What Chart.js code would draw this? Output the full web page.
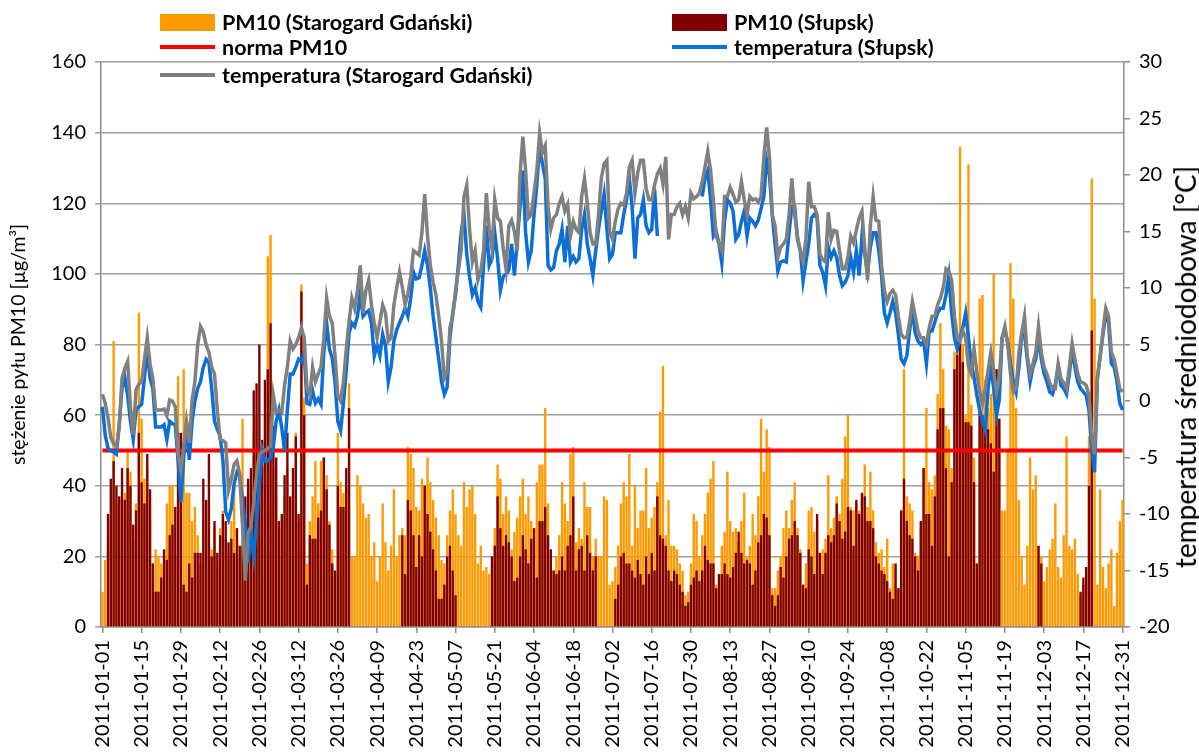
<!DOCTYPE html>
<html lang="pl">
<head>
<meta charset="utf-8">
<title>PM10 i temperatura 2011</title>
<script src="https://cdn.jsdelivr.net/npm/chart.js@4.4.0/dist/chart.umd.min.js"></script>
<style>
  html, body { margin: 0; padding: 0; background: #fff; overflow: hidden; }
  #wrap { position: relative; width: 1199px; height: 753px; }
  #wykres { position: absolute; left: 0; top: 0; }
  .leg { position: absolute; font-family: Lato, sans-serif; font-size: 21.5px; font-weight: bold; line-height: 24px; color: #000;
         display: flex; align-items: center; white-space: nowrap; }
  .leg i { display: inline-block; width: 55px; margin-right: 7px; }
  .leg .box { height: 17px; }
  .leg .ln { height: 4px; }
  #tytulPrawy { position: absolute; left: 1185px; top: 367px; transform: translate(-50%, -50%) rotate(-90deg);
                font-family: Lato, sans-serif; font-size: 28px; line-height: 30px; color: #000; white-space: nowrap; }
</style>
</head>
<body>
<div id="wrap">
  <canvas id="wykres" width="1199" height="753"></canvas>
  <div class="leg" style="left:160px; top:10px;"><i class="box" style="background:#ff9900"></i>PM10 (Starogard Gdański)</div>
  <div class="leg" style="left:672px; top:10px;"><i class="box" style="background:#800000"></i>PM10 (Słupsk)</div>
  <div class="leg" style="left:160px; top:35px;"><i class="ln" style="background:#ff0000"></i>norma PM10</div>
  <div class="leg" style="left:672px; top:35px;"><i class="ln" style="background:#0b6fd6"></i>temperatura (Słupsk)</div>
  <div class="leg" style="left:160px; top:63px;"><i class="ln" style="background:#808080"></i>temperatura (Starogard Gdański)</div>
  <div id="tytulPrawy">temperatura średniodobowa [°C]</div>
</div>
<script>
const _ = null;

// dni roku 2011
const dni = [];
const start = new Date(Date.UTC(2011, 0, 1));
for (let i = 0; i < 365; i++) {
    const d = new Date(start.getTime() + i * 86400000);
    dni.push(d.toISOString().slice(0, 10));
}

const normaPM10 = 50;

// PM10 Starogard Gdański [ug/m3]
const pm10Starogard = [
    10, 19, 25, 30, 81, 35, 36, 30, 38, 50, 44, 25, 35, 89, 59, 42, 45, 30, 18, 22, 20, 18, 20, 35, 40, 40, 20, 71, 40, 73, 38, 38, 30, 34, 26,
    18, 30, 25, 35, 22, 28, 17, 28, 33, 25, 20, 30, 41, 28, 20, 59, 30, 38, 40, 55, 60, 48, 45, 60, 105, 111, 45, 37, 28, 20, 37, 45, 36, 38, 55, 30, 97,
    65, 18, 30, 37, 47, 35, 47, 48, 43, 30, 22, 15, 55, 41, 38, 40, 69, 20, 20, 43, 40, 35, 31, 32, 20, 24, 13, 20, 35, 24, 16, 23, 39, 20, 26, 28, 26,
    51, 49, 45, 34, 33, 42, 40, 48, 41, 36, 31, 26, 19, 18, 26, 33, 39, 32, 26, 23, 41, 34, 39, 40, 32, 18, 23, 16, 17, 15, 18, 28, 46, 42, 32, 37, 33,
    22, 27, 31, 37, 42, 32, 37, 30, 28, 41, 46, 46, 62, 35, 20, 16, 20, 26, 41, 35, 30, 49, 51, 24, 28, 25, 41, 34, 34, 20, 25, 20, 20, 37, 36, 12,
    13, 17, 23, 35, 41, 37, 49, 23, 40, 28, 33, 33, 45, 28, 31, 34, 41, 61, 74, 26, 36, 23, 23, 22, 18, 16, 9, 10, 18, 32, 30, 20, 26, 32, 38, 42, 47,
    12, 15, 23, 27, 44, 30, 27, 28, 24, 30, 38, 20, 23, 32, 26, 37, 59, 44, 56, 51, 11, 11, 16, 20, 28, 33, 28, 36, 41, 28, 22, 12, 18, 33, 34, 27, 30,
    21, 22, 25, 43, 28, 31, 37, 32, 42, 54, 60, 34, 33, 35, 33, 37, 46, 34, 44, 33, 24, 21, 22, 17, 25, 11, 18, 17, 11, 33, 73, 37, 35, 33, 21, 20, 28,
    45, 62, 41, 39, 43, 66, 86, 73, 57, 56, 45, 78, 80, 136, 80, 60, 131, 63, 48, 18, 93, 94, 70, 62, 66, 100, 73, 59, 33, 33, 50, 103, 93, 62, 36, 20,
    12, 23, 48, 39, 43, 23, 20, 13, 17, 22, 25, 35, 17, 14, 26, 54, 23, 22, 25, 15, 9, 12, 16, 54, 127, 93, 12, 39, 17, 11, 18, 22, 6, 21, 30, 36
];

// PM10 Słupsk [ug/m3]
const pm10Slupsk = [
    _, _, 32, 42, 47, 40, 37, 45, 36, 45, 40, 29, 33, 55, 41, 35, 49, 39, 18, 10, 10, 14, 22, 19, 26, 29, 34, 55, 55, 12, 10, 18, 14, 21, 21,
    21, 42, 36, 49, 20, 30, 21, 26, 32, 30, 24, 25, 21, 28, 23, 23, 37, 42, 45, 67, 69, 80, 53, 70, 73, 86, 57, 48, 30, 32, 43, 55, 37, 45, 54, 32, 95,
    60, 12, 26, 25, 25, 31, 33, 48, 39, 29, 18, 16, 40, 34, 34, 45, 62, _, _, _, _, _, _, _, _, _, _, _, _, _, _, _, _, _, _, 26, 15,
    36, 33, 26, 17, 26, 20, 40, 32, 27, 22, 16, 8, 8, 12, 20, 23, 16, 9, _, _, _, _, _, _, _, _, _, _, _, _, 20, 23, 37, 28, 23, 26, 24,
    20, 13, 14, 20, 26, 22, 18, 25, 28, 14, 30, 30, 34, 26, 22, 16, 15, 16, 20, 16, 23, 26, 37, 16, 22, 23, 16, 26, 21, 16, 20, _, _, _, _, _,
    _, 8, 12, 20, 21, 18, 18, 16, 14, 19, 15, 12, 20, 15, 21, 16, 37, 26, 25, 23, 16, 13, 16, 15, 12, 10, 6, 7, 12, 14, 16, 13, 16, 23, 19, 18, 18,
    11, 15, 15, 18, 15, 14, 17, 21, 27, 21, 18, 19, 18, 12, 16, 24, 26, 32, 31, 26, 9, 6, 9, 17, 14, 20, 25, 26, 30, 26, 21, 12, 11, 22, 20, 15, 32,
    21, 15, 21, 26, 24, 26, 35, 30, 25, 27, 34, 33, 23, 36, 32, 38, 37, 30, 30, 28, 20, 18, 16, 15, 13, 10, 8, 18, 11, 33, 42, 30, 26, 25, 20, 16, 30,
    45, 32, 32, 23, 37, 56, 62, 62, 45, 20, 41, 73, 77, 81, 75, 58, 58, 57, 41, 18, 61, 60, 57, 56, 52, 44, 73, 59, _, _, _, _, _, _, _, _,
    _, _, _, _, _, 23, 18, _, _, _, _, _, _, _, _, _, _, _, _, _, 10, 14, 17, 40, 84, _, _, _, _, _, _, _, _, _, _, _
];

// temperatura średniodobowa Słupsk [°C]
const tempSlupsk = [
    -0.5, -3.0, -4.2, -4.4, -4.5, -4.7, -2.0, 1.1, 2.1, 0.5, -1.8, -3.4, -0.8, -0.5, -0.3, 2.1, 4.6, 2.0, 1.1, -2.3, -2.3, -2.3, -2.1, -3.4, -1.8, -2.0, -2.1, -5.3, -9.0, -5.0, -2.1, -5.2, -1.8, 0.0, 1.1,
    1.7, 3.0, 3.7, 3.4, 1.1, -1.8, -2.5, -3.1, -5.3, -9.8, -10.5, -9.5, -7.3, -6.3, -6.6, -8.9, -11.0, -14.3, -11.7, -13.7, -10.5, -7.3, -4.4, -5.3, -5.3, -5.0, -4.0, -1.8, -0.8, -2.4, -4.4, -0.8, 2.4, 2.4, 3.0, 3.7, 3.5,
    4.3, -0.2, -0.3, 0.9, -0.2, 0.2, -0.3, 4.3, 6.9, 4.6, 3.8, 1.7, -1.8, -2.6, -0.2, 2.7, 6.0, 6.9, 6.6, 7.5, 9.5, 7.5, 7.8, 8.0, 6.9, 4.0, 5.0, 4.0, 5.9, 4.9, 1.7, 3.0, 5.3, 6.3, 6.9, 7.5, 8.2,
    7.5, 9.1, 11.4, 10.8, 10.9, 12.0, 13.3, 12.0, 10.0, 7.5, 5.6, 3.7, 1.7, 0.6, 1.2, 5.6, 7.8, 9.4, 12.0, 14.9, 16.5, 13.0, 11.0, 9.4, 10.0, 8.8, 8.3, 12.0, 15.5, 12.0, 12.6, 14.9, 12.6, 9.8, 11.0, 11.2, 11.6,
    13.9, 11.1, 14.2, 17.2, 20.4, 14.9, 12.3, 13.3, 16.5, 19.1, 22.6, 21.0, 19.7, 12.0, 11.6, 11.8, 13.3, 13.9, 15.2, 12.3, 15.5, 12.3, 12.8, 12.3, 12.6, 15.2, 16.5, 13.9, 12.6, 11.1, 13.3, 15.2, 16.8, 18.3, 15.2, 12.6,
    13.0, 14.9, 14.9, 14.9, 16.5, 17.8, 19.7, 17.2, 12.6, 16.2, 16.5, 17.8, 15.5, 14.9, 15.2, 18.8, 14.6, _, _, _, _, _, _, _, _, _, _, _, _, _, _, _, 18.1, 19.7, 20.4, 17.8, 14.6,
    15.0, 13.9, 12.2, 16.0, 17.8, 17.5, 16.8, 14.3, 14.7, 15.9, 16.8, 14.6, 16.2, 15.9, 15.5, 16.0, 17.0, 18.1, 21.3, 20.0, 16.5, 13.9, 11.5, 12.3, 12.4, 12.3, 14.9, 17.2, 17.2, 14.3, 13.3, 10.6, 12.3, 13.9, 16.2, 16.5, 16.2,
    12.0, 11.4, 10.2, 13.6, 12.7, 13.3, 12.7, 11.1, 10.2, 10.5, 11.1, 12.7, 11.4, 13.3, 11.1, 14.6, 13.0, 11.4, 13.6, 14.9, 14.9, 13.3, 11.1, 7.8, 6.9, 7.8, 8.8, 7.8, 5.9, 3.7, 3.3, 4.0, 6.2, 8.2, 6.0, 5.3, 5.0,
    5.3, 3.3, 6.2, 6.2, 7.0, 7.8, 8.2, 8.2, 9.4, 11.1, 7.8, 5.6, 4.6, 5.6, 6.5, 7.8, 5.6, 3.3, 2.1, 0.5, -0.8, -1.8, -2.6, 1.1, 3.3, 1.1, -1.3, 0.1, 5.6, 6.2, 5.3, 3.3, 1.7, 0.8, 3.0, 5.9,
    5.9, 3.7, 1.7, 3.0, 3.7, 5.6, 3.7, 2.4, 1.7, 0.8, 0.6, 1.5, 3.0, 1.4, 1.1, 0.6, 2.4, 4.6, 3.0, 1.7, 1.1, 0.8, 0.5, -0.8, -4.4, -6.3, 2.0, 4.0, 5.9, 7.8, 6.9, 3.3, 3.0, 1.7, -0.2, -0.8
];

// temperatura średniodobowa Starogard Gdański [°C]
const tempStarogard = [
    0.6, -0.2, -1.5, -3.2, -3.8, -4.0, -2.4, 2.0, 2.9, 3.5, -0.5, -3.0, 1.0, 1.5, 1.7, 3.7, 5.6, 3.3, 2.0, -0.8, -0.8, -0.8, -0.7, -1.3, 0.1, 0.0, -0.5, -4.7, -6.1, -4.0, -1.8, -3.7, 0.1, 1.7, 5.0,
    6.6, 6.1, 5.0, 4.3, 3.0, 2.4, -0.8, -3.4, -3.5, -3.7, -7.9, -6.9, -5.6, -5.3, -6.5, -11.1, -15.9, -11.7, -11.1, -8.9, -6.6, -4.7, -4.5, -4.4, -4.2, -4.0, 0.5, -1.0, -0.8, -1.0, 1.4, 3.0, 5.3, 4.6, 5.0, 5.6, 6.5,
    5.6, 1.1, 0.5, 3.0, 1.7, 2.4, 3.0, 5.6, 9.1, 7.5, 6.9, 4.0, 0.5, 0.0, 1.7, 4.6, 7.0, 9.1, 8.2, 9.8, 12.0, 7.8, 9.8, 10.7, 8.5, 6.9, 5.6, 7.0, 8.5, 7.8, 5.3, 5.6, 8.5, 10.0, 11.4, 10.1, 8.5,
    9.5, 11.0, 13.3, 13.1, 12.9, 14.9, 18.3, 14.6, 12.0, 10.5, 9.4, 7.5, 5.3, 2.0, 2.5, 6.5, 7.5, 9.8, 11.5, 13.3, 18.1, 19.1, 15.2, 12.3, 13.3, 10.7, 11.5, 13.3, 18.4, 15.2, 13.5, 17.8, 16.2, 15.9, 13.5, 11.7, 15.5,
    16.0, 15.0, 13.3, 20.0, 23.4, 20.4, 16.2, 16.5, 18.4, 20.4, 23.7, 22.0, 22.6, 17.2, 15.2, 16.2, 16.5, 17.5, 18.1, 16.8, 17.4, 14.6, 15.9, 15.2, 14.9, 18.1, 19.7, 17.5, 14.9, 13.9, 13.9, 16.5, 19.7, 21.0, 21.3, 15.0,
    14.3, 15.9, 17.0, 17.5, 17.3, 18.4, 20.7, 21.3, 18.4, 20.2, 21.3, 21.3, 18.8, 17.8, 17.8, 19.1, 20.1, 20.6, 19.2, 21.6, 14.3, 16.5, 16.5, 17.2, 17.5, 16.5, 17.2, 16.2, 18.4, 17.9, 18.1, 18.4, 19.4, 20.7, 22.1, 20.4, 17.8,
    14.6, 13.9, 13.3, 18.1, 18.1, 18.9, 18.3, 17.6, 17.8, 19.4, 17.8, 16.5, 18.1, 17.8, 17.9, 17.6, 18.1, 21.6, 24.2, 21.6, 16.5, 15.5, 12.7, 13.6, 13.9, 14.3, 16.5, 19.7, 16.5, 14.6, 13.3, 12.3, 14.3, 19.4, 17.2, 17.2, 16.5,
    13.0, 12.5, 12.3, 16.7, 14.3, 15.1, 15.0, 13.3, 11.7, 11.7, 12.7, 14.6, 14.0, 15.1, 16.2, 16.8, 13.5, 10.7, 15.5, 18.1, 16.0, 15.9, 12.0, 9.8, 8.8, 9.5, 9.8, 9.4, 7.5, 5.9, 5.6, 5.6, 7.0, 8.8, 7.5, 6.2, 5.6,
    5.6, 5.0, 6.5, 7.5, 7.5, 8.5, 9.1, 10.0, 11.7, 11.5, 10.7, 7.5, 5.6, 5.3, 6.2, 5.6, 3.0, 2.4, 4.6, 2.5, 0.8, -0.2, 1.1, 2.7, 4.3, 2.7, 0.8, 2.0, 5.6, 6.6, 5.0, 2.4, 0.8, 1.1, 4.3, 6.0,
    7.5, 4.0, 2.4, 3.3, 4.3, 6.6, 4.3, 3.0, 2.4, 1.6, 1.1, 1.1, 3.3, 2.0, 1.6, 1.1, 3.0, 5.1, 3.7, 2.4, 1.7, 1.6, 1.4, 0.5, -3.1, -4.7, 2.0, 4.0, 6.2, 8.2, 7.5, 4.3, 3.7, 2.4, 1.1, 0.8
];

const czcionka = 'Lato, "Noto Sans", sans-serif';
Chart.defaults.font.family = czcionka;
Chart.defaults.color = '#000';

const data = {
    labels: dni,
    datasets: [
        {
            type: 'line',
            label: 'temperatura (Starogard Gdański)',
            data: tempStarogard,
            yAxisID: 'y1',
            borderColor: '#808080',
            borderWidth: 3.5,
            pointRadius: 0,
            tension: 0,
            order: 1
        },
        {
            type: 'line',
            label: 'temperatura (Słupsk)',
            data: tempSlupsk,
            yAxisID: 'y1',
            borderColor: '#0b6fd6',
            borderWidth: 3.5,
            pointRadius: 0,
            tension: 0,
            spanGaps: false,
            order: 2
        },
        {
            type: 'line',
            label: 'norma PM10',
            data: dni.map(() => normaPM10),
            yAxisID: 'y',
            borderColor: '#ff0000',
            borderWidth: 4,
            pointRadius: 0,
            order: 3
        },
        {
            type: 'bar',
            label: 'PM10 (Słupsk)',
            data: pm10Slupsk,
            yAxisID: 'y',
            backgroundColor: '#800000',
            grouped: false,
            categoryPercentage: 1,
            barPercentage: 0.85,
            order: 4
        },
        {
            type: 'bar',
            label: 'PM10 (Starogard Gdański)',
            data: pm10Starogard,
            yAxisID: 'y',
            backgroundColor: '#ff9900',
            grouped: false,
            categoryPercentage: 1,
            barPercentage: 0.85,
            order: 5
        }
    ]
};

const config = {
    type: 'bar',
    data: data,
    options: {
        responsive: false,
        animation: false,
        devicePixelRatio: 1,
        layout: { padding: { top: 62, left: 0, right: 0, bottom: 0 } },
        plugins: {
            legend: { display: false },
            tooltip: { enabled: false }
        },
        scales: {
            x: {
                offset: true,
                grid: { drawOnChartArea: false, offset: false, tickLength: 6, color: '#8c8c8c', lineWidth: 1.5 },
                border: { color: '#8c8c8c', width: 1.5 },
                ticks: {
                    autoSkip: false,
                    minRotation: 90,
                    maxRotation: 90,
                    padding: 7,
                    font: { size: 20 },
                    callback: function (value, index) {
                        return index % 14 === 0 ? this.getLabelForValue(value) : null;
                    }
                },
                afterFit: s => { s.height = 126; }
            },
            y: {
                position: 'left',
                min: 0,
                max: 160,
                ticks: { stepSize: 20, padding: 9, font: { size: 20 } },
                grid: { color: '#a0a0a0', lineWidth: 1.5, tickLength: 6 },
                border: { color: '#8c8c8c', width: 1.5 },
                title: {
                    display: true,
                    text: 'stężenie pyłu PM10 [µg/m³]',
                    font: { size: 19.5 },
                    padding: { top: 7 }
                },
                afterFit: s => { s.width = 101; }
            },
            y1: {
                position: 'right',
                min: -20,
                max: 30,
                ticks: { stepSize: 5, padding: 9, font: { size: 20 } },
                grid: { drawOnChartArea: false, tickLength: 6, color: '#8c8c8c', lineWidth: 1.5 },
                border: { color: '#8c8c8c', width: 1.5 },
                afterFit: s => { s.width = 75; }
            }
        }
    }
};

const wykres = new Chart(document.getElementById('wykres'), config);
</script>
</body>
</html>
